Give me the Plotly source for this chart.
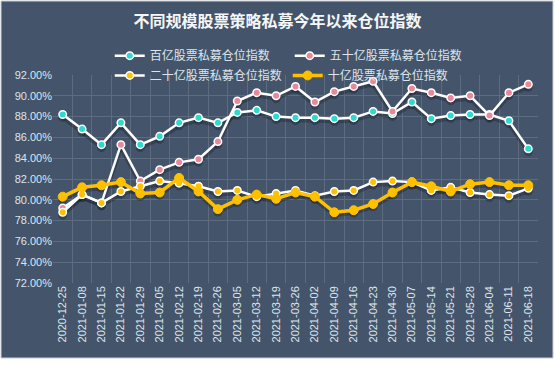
import plotly.graph_objects as go

dates = ["2020-12-25", "2021-01-08", "2021-01-15", "2021-01-22", "2021-01-29",
         "2021-02-05", "2021-02-12", "2021-02-19", "2021-02-26", "2021-03-05",
         "2021-03-12", "2021-03-19", "2021-03-26", "2021-04-02", "2021-04-09",
         "2021-04-16", "2021-04-23", "2021-04-30", "2021-05-07", "2021-05-14",
         "2021-05-21", "2021-05-28", "2021-06-04", "2021-06-11", "2021-06-18"]

idx_100 = [88.2, 86.8, 85.3, 87.4, 85.3, 86.1, 87.4, 87.9, 87.4, 88.4, 88.6, 88.0, 87.9,
           87.9, 87.8, 87.9, 88.5, 88.3, 89.4, 87.8, 88.1, 88.2, 88.2, 87.6, 84.9]
idx_50 = [79.2, 80.5, 79.7, 85.3, 81.8, 82.9, 83.6, 83.9, 85.6, 89.5, 90.3, 90.0, 90.9,
          89.4, 90.4, 90.9, 91.4, 88.5, 90.7, 90.3, 89.8, 90.0, 88.1, 90.3, 91.1]
idx_20 = [78.8, 80.5, 79.7, 80.8, 81.3, 81.8, 81.6, 81.3, 80.8, 80.9, 80.3, 80.6, 80.9,
          80.4, 80.8, 80.9, 81.7, 81.8, 81.7, 80.9, 81.2, 80.7, 80.5, 80.4, 81.1]
idx_10 = [80.3, 81.2, 81.4, 81.7, 80.6, 80.7, 82.1, 80.8, 79.1, 80.0, 80.5, 80.1, 80.7,
          80.3, 78.8, 79.0, 79.6, 80.7, 81.7, 81.3, 80.8, 81.5, 81.7, 81.4, 81.4]

names = ["百亿股票私募仓位指数", "五十亿股票私募仓位指数", "二十亿股票私募仓位指数", "十亿股票私募仓位指数"]

BG = "#44546a"
GRID = "#5e6c80"
TXT = "#dfe4ea"
FONT = "Liberation Sans, Noto Sans CJK SC, sans-serif"
CJK = "Noto Sans CJK SC, sans-serif"

fig = go.Figure()

shadow_dy = 0.28
series = [(idx_100, "#2fd9d0", "white", "legend"),
          (idx_50, "#e8899a", "white", "legend"),
          (idx_20, "#ffc000", "white", "legend2"),
          (idx_10, "#ffc000", "#ffc000", "legend2")]

# soft shadows
for vals, mcol, lcol, lg in series:
    fig.add_trace(go.Scatter(
        x=dates, y=[v - shadow_dy for v in vals], mode="lines+markers",
        line=dict(color="rgba(22,28,40,0.35)", width=4),
        marker=dict(size=9, color="rgba(22,28,40,0.35)"),
        showlegend=False, hoverinfo="skip"))

for (vals, mcol, lcol, lg), nm in zip(series, names):
    if lcol == "white":
        fig.add_trace(go.Scatter(
            x=dates, y=vals, name=nm, mode="lines+markers", legend=lg,
            line=dict(color="white", width=2.5),
            marker=dict(size=7.5, color=mcol, line=dict(color="white", width=1.5))))
    else:
        fig.add_trace(go.Scatter(
            x=dates, y=vals, name=nm, mode="lines+markers", legend=lg,
            line=dict(color=mcol, width=3.5),
            marker=dict(size=9, color=mcol, line=dict(color=mcol, width=1))))

fig.update_layout(
    width=555, height=365,
    margin=dict(l=53, r=17, t=75, b=82),
    paper_bgcolor="white",
    plot_bgcolor="rgba(0,0,0,0)",
    font=dict(family=FONT, color=TXT, size=11),
    title=dict(text="<b>不同规模股票策略私募今年以来仓位指数</b>",
               font=dict(family=CJK, size=16, color="#f4f6f8"),
               x=0.5, xanchor="center", xref="container",
               y=1 - 21 / 365, yanchor="middle", yref="container"),
    legend=dict(orientation="h", x=0.117, xanchor="left", y=1.093, yanchor="middle",
                font=dict(family=CJK, size=12, color=TXT), bgcolor="rgba(0,0,0,0)",
                entrywidth=135, itemwidth=30),
    legend2=dict(orientation="h", x=0.117, xanchor="left", y=0.998, yanchor="middle",
                 font=dict(family=CJK, size=12, color=TXT), bgcolor="rgba(0,0,0,0)",
                 entrywidth=133, itemwidth=30),
    shapes=[dict(type="rect", xref="paper", yref="paper", layer="below",
                 x0=(1 - 53) / 485, x1=(553 - 53) / 485,
                 y0=(283 - 358) / 208, y1=(283 - 1) / 208,
                 fillcolor=BG, line=dict(color="#c9cdd3", width=1))],
    xaxis=dict(type="category", tickson="boundaries", showgrid=True, gridcolor=GRID,
               gridwidth=1, tickangle=-90, ticks="outside", ticklen=3,
               tickcolor="rgba(0,0,0,0)", showline=False, zeroline=False,
               tickfont=dict(family=FONT, size=11, color=TXT), range=[-0.5, 24.5]),
    yaxis=dict(range=[72, 92], dtick=2, tickformat=".2f", ticksuffix="%",
               showgrid=True, gridcolor=GRID, gridwidth=1, zeroline=False,
               showline=False, tickfont=dict(family=FONT, size=11, color=TXT)),
)

fig.write_html("out.html", config={"displayModeBar": False},
               post_script="document.body.style.margin='0';")
